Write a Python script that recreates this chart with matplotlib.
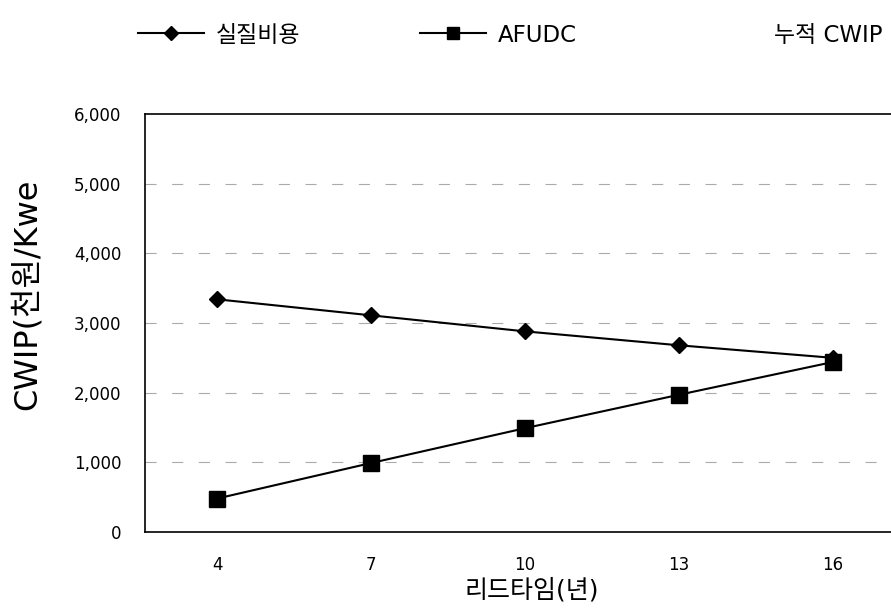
import matplotlib.pyplot as plt
from matplotlib.lines import Line2D

plt.rcParams['font.family'] = ['DejaVu Sans', 'Noto Sans CJK KR']

# 리드타임(년) vs CWIP(천원/Kwe)
lead_times = ['4', '7', '10', '13', '16']
real_cost = [3340, 3110, 2880, 2680, 2500]   # 실질비용
afudc = [480, 990, 1490, 1970, 2440]         # AFUDC
y_ticks = [0, 1000, 2000, 3000, 4000, 5000, 6000]

fig = plt.figure(figsize=(8.91, 6.15), dpi=100)
ax = fig.add_axes([145 / 891, 83 / 615, 746 / 891, 418 / 615])

x = range(len(lead_times))
ax.plot(x, real_cost, color='black', lw=1.5, marker='D', markersize=8.5)
ax.plot(x, afudc, color='black', lw=1.5, marker='s', markersize=11)

# plot area runs past the right edge of the picture
ax.set_xlim(-0.468, 4.377)
ax.set_ylim(0, 6000)
ax.set_xticks(list(x))
ax.set_xticklabels(lead_times, fontsize=12)
ax.set_yticks(y_ticks)
ax.set_yticklabels([f'{v:,}' for v in y_ticks], fontsize=12)
ax.tick_params(axis='both', length=0)
ax.tick_params(axis='x', pad=17)
ax.tick_params(axis='y', pad=17)

for v in y_ticks[1:-1]:
    ax.axhline(v, color='#aaaaaa', lw=0.8, ls=(0, (10, 14)), zorder=0)

for s in ['left', 'top', 'bottom']:
    ax.spines[s].set_color('black')
    ax.spines[s].set_linewidth(1.2)
ax.spines['right'].set_visible(False)

ax.set_xlabel('리드타임(년)', fontsize=18)
ax.xaxis.set_label_coords((532 - 145) / 746, -(590 - 532) / 418)
ax.xaxis.label.set_va('center')
ax.set_ylabel('CWIP(천원/Kwe', fontsize=23)
ax.yaxis.set_label_coords(-0.137, (532 - 294) / 418)

handles = [
    Line2D([], [], color='black', lw=1.5, marker='D', markersize=7),
    Line2D([], [], color='black', lw=1.5, marker='s', markersize=9),
    Line2D([], [], color='none'),
]
fig.legend(handles, ['실질비용', 'AFUDC', '누적 CWIP'], loc='center',
           bbox_to_anchor=(510 / 891, 1 - 35 / 615), ncol=3, frameon=False,
           prop={'family': ['DejaVu Sans', 'Noto Sans CJK KR'], 'size': 16.5},
           handlelength=2.9, columnspacing=5.2, handletextpad=0.5)

fig.savefig('out.png', dpi=100)
